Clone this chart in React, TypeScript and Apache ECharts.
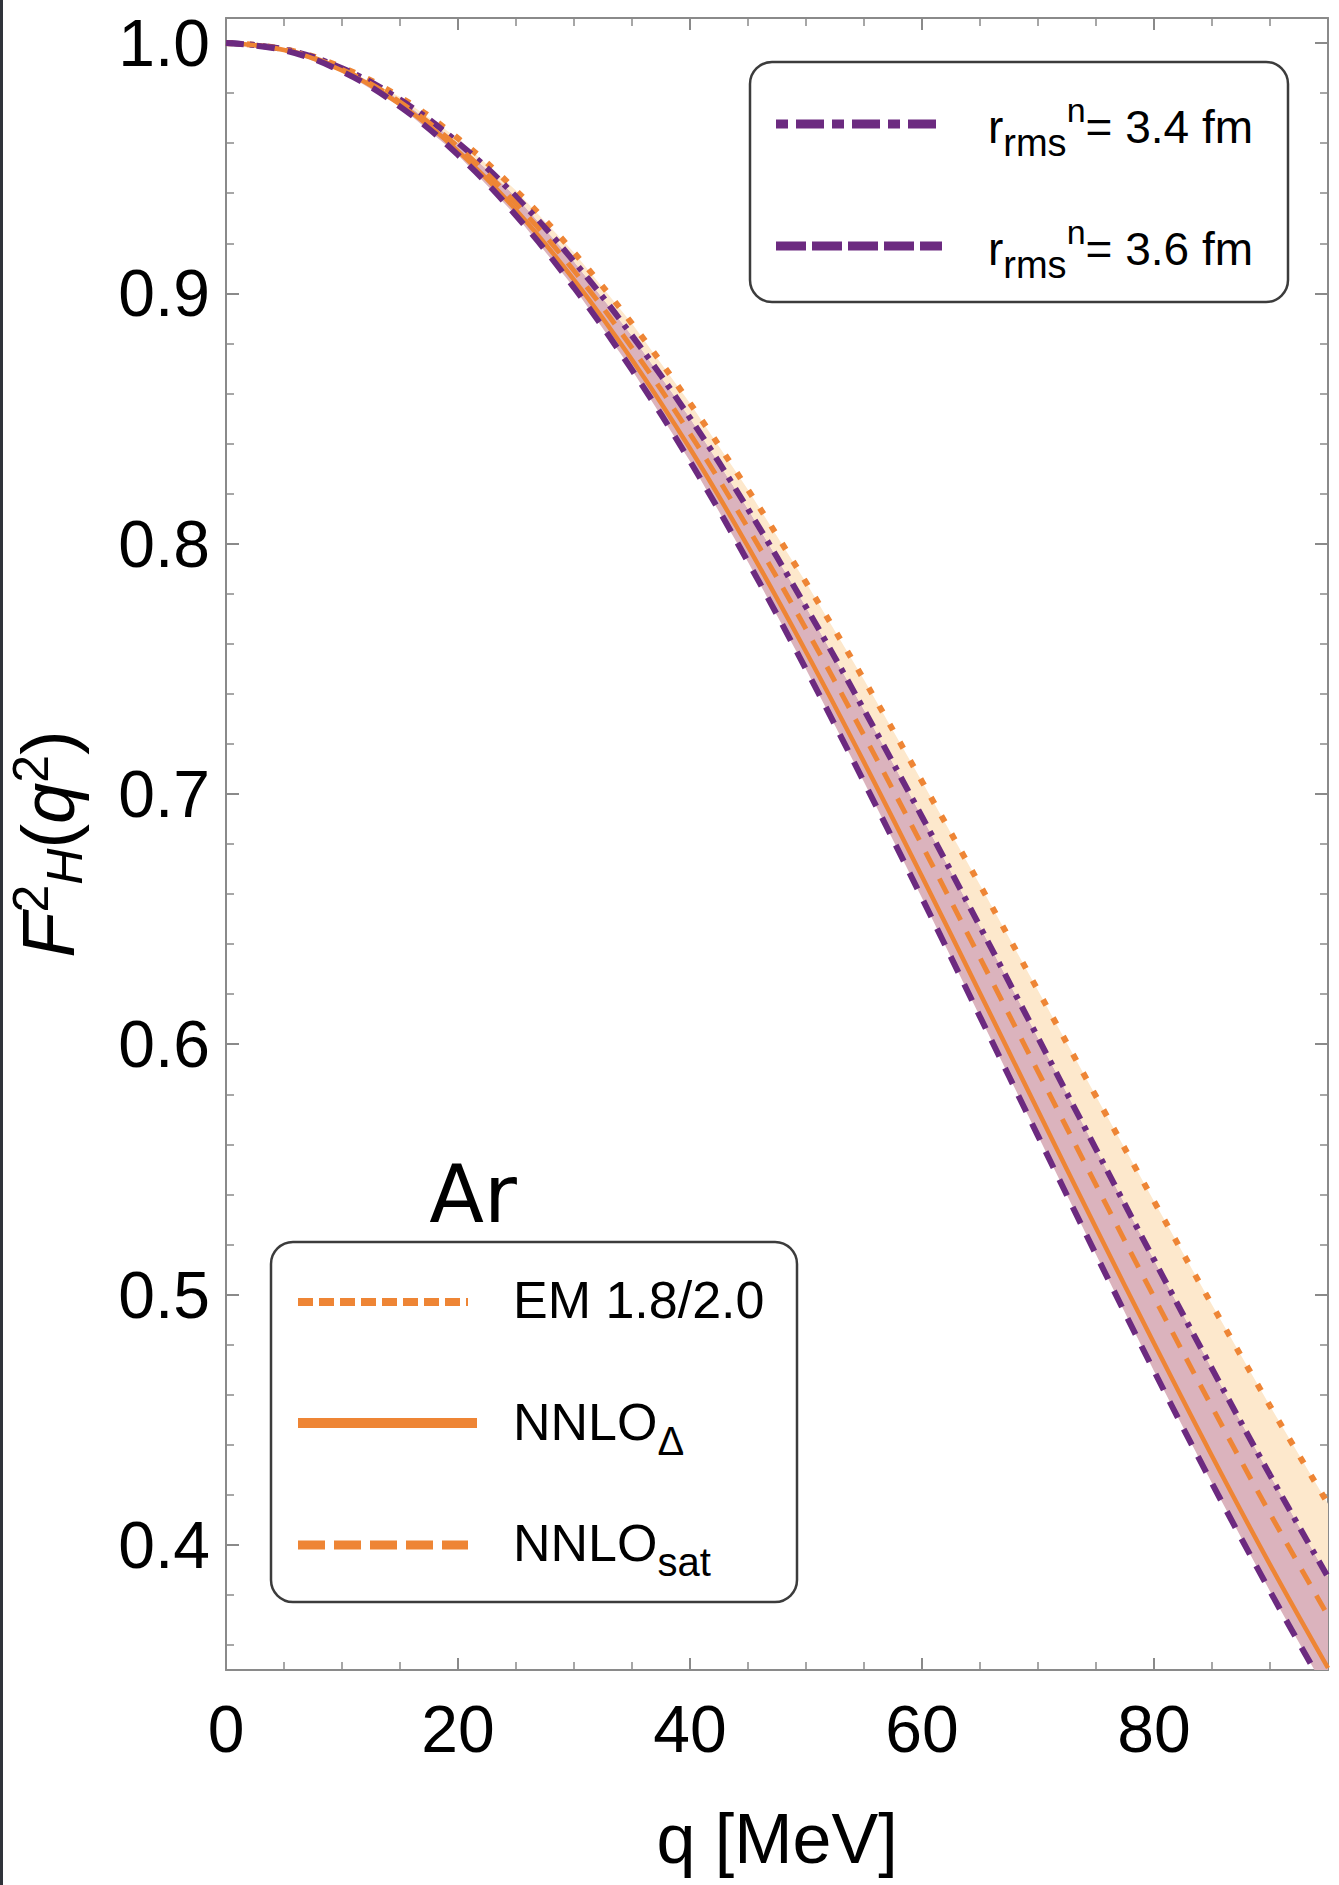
import React, { useEffect, useRef } from 'react';
import * as echarts from 'echarts';

// ---- data ----
const qValues = [0, 5, 10, 15, 20, 25, 30, 35, 40, 45, 50, 55, 60, 65, 70, 75, 80, 85, 90, 95];
const emValues = [1.0, 0.9976, 0.9903, 0.9784, 0.9619, 0.9411, 0.9163, 0.8879, 0.8561, 0.8215, 0.7845, 0.7456, 0.705, 0.6636, 0.6215, 0.5792, 0.5373, 0.4959, 0.4555, 0.4164];
const r34Values = [1.0, 0.9975, 0.9899, 0.9774, 0.9602, 0.9386, 0.9127, 0.8831, 0.8502, 0.8138, 0.7747, 0.7336, 0.6909, 0.647, 0.6026, 0.5581, 0.5139, 0.4704, 0.4279, 0.3871];
const nnloSatValues = [1.0, 0.9974, 0.9894, 0.9764, 0.9585, 0.9359, 0.909, 0.8782, 0.8439, 0.8062, 0.7659, 0.7234, 0.6795, 0.6345, 0.5891, 0.5438, 0.499, 0.4551, 0.4125, 0.3717];
const nnloDeltaValues = [1.0, 0.9972, 0.989, 0.9755, 0.9568, 0.9333, 0.9054, 0.8735, 0.838, 0.7988, 0.7568, 0.7127, 0.667, 0.6204, 0.5734, 0.5266, 0.4805, 0.4355, 0.3921, 0.3508];
const r36Values = [1.0, 0.9971, 0.9886, 0.9746, 0.9553, 0.9311, 0.9023, 0.8694, 0.8329, 0.7927, 0.7498, 0.7048, 0.6584, 0.611, 0.5634, 0.516, 0.4695, 0.4246, 0.3815, 0.3404];

const xRange = [0, 95];
const yRange = [0.35, 1.01];

const FONT = '"Liberation Sans", Arial, Helvetica, sans-serif';
const ORANGE = '#ee8535';
const PURPLE = '#6c2a80';
const AXIS = '#8a8a8a';
const PEACH = '#fde8cc';
const MAUVE = '#dbb3bd';

// bands: [upper, lower, colour]
const bands = [
  { upper: r34Values, lower: r36Values, color: MAUVE },
  { upper: emValues, lower: r34Values, color: PEACH },
];

function pairs(vals: number[]) {
  return qValues.map((q, i) => [q, vals[i]]);
}

function makeX(position: 'bottom' | 'top', labels: boolean) {
  return {
    type: 'value',
    position,
    min: xRange[0],
    max: xRange[1],
    interval: 20,
    axisLine: { show: true, onZero: false, lineStyle: { color: AXIS, width: 2 } },
    axisTick: { show: true, inside: true, length: 12, lineStyle: { color: AXIS, width: 2 } },
    minorTick: { show: true, splitNumber: 4, length: 8, lineStyle: { color: AXIS, width: 1.5 } },
    splitLine: { show: false },
    minorSplitLine: { show: false },
    axisLabel: {
      show: labels,
      margin: 26,
      fontSize: 66,
      fontFamily: FONT,
      color: '#000',
      showMaxLabel: false,
      formatter: (v: number) => String(v),
    },
    ...(labels
      ? {
          name: 'q [MeV]',
          nameLocation: 'middle',
          nameGap: 134,
          nameTextStyle: { fontSize: 70, fontFamily: FONT, color: '#000' },
        }
      : {}),
  };
}

function makeY(position: 'left' | 'right', labels: boolean) {
  return {
    type: 'value',
    position,
    min: yRange[0],
    max: yRange[1],
    splitNumber: 6,
    axisLine: { show: true, onZero: false, lineStyle: { color: AXIS, width: 2 } },
    axisTick: { show: true, inside: true, length: 13, lineStyle: { color: AXIS, width: 2 } },
    minorTick: { show: true, splitNumber: 5, length: 8, lineStyle: { color: AXIS, width: 1.5 } },
    splitLine: { show: false },
    minorSplitLine: { show: false },
    axisLabel: {
      show: labels,
      margin: 16,
      fontSize: 66,
      fontFamily: FONT,
      color: '#000',
      showMinLabel: false,
      showMaxLabel: false,
      formatter: (v: number) => v.toFixed(1),
    },
  };
}

const baseLine = {
  type: 'line',
  symbol: 'none',
  smooth: 0.4,
  silent: true,
  xAxisIndex: 0,
  yAxisIndex: 0,
  z: 3,
};

function legendText(x: number, y: number, text: string, size: number, sub: number, sup: number) {
  const lh = size * 1.5;
  return {
    type: 'text',
    x,
    y,
    z: 101,
    style: {
      text,
      align: 'left',
      verticalAlign: 'middle',
      textAlign: 'left',
      textVerticalAlign: 'middle',
      rich: {
        n: { fontSize: size, fontFamily: FONT, fill: '#000', lineHeight: lh, verticalAlign: 'middle' },
        sub: { fontSize: sub, fontFamily: FONT, fill: '#000', lineHeight: lh, verticalAlign: 'bottom' },
        sup: { fontSize: sup, fontFamily: FONT, fill: '#000', lineHeight: lh, verticalAlign: 'top' },
      },
    },
  };
}

function legendLine(x1: number, x2: number, y: number, color: string, width: number, dash: number[] | null) {
  return {
    type: 'line',
    z: 101,
    shape: { x1, y1: y, x2, y2: y },
    style: { stroke: color, lineWidth: width, lineDash: dash || undefined, lineCap: 'butt' },
  };
}

export default function App() {
  const ref = useRef<HTMLDivElement>(null);

  useEffect(() => {
    if (!ref.current) return;
    const chart = echarts.init(ref.current, undefined, { renderer: 'svg' });
    const option: any = {
      animation: false,
      backgroundColor: '#ffffff',
      grid: { left: 226, top: 18, right: 11, bottom: 215, containLabel: false, outerBoundsMode: 'none' },
      xAxis: [makeX('bottom', true), makeX('top', false)],
      yAxis: [makeY('left', true), makeY('right', false)],
      series: [
        {
          type: 'custom',
          name: 'bands',
          coordinateSystem: 'cartesian2d',
          xAxisIndex: 0,
          yAxisIndex: 0,
          clip: true,
          silent: true,
          z: 1,
          data: bands.map((_, i) => [i, 1]),
          encode: { x: 0, y: 1 },
          renderItem: (params: any, api: any) => {
            const band = bands[params.dataIndex];
            const pts: number[][] = [];
            for (let i = 0; i < qValues.length; i++) pts.push(api.coord([qValues[i], band.upper[i]]));
            for (let i = qValues.length - 1; i >= 0; i--) pts.push(api.coord([qValues[i], band.lower[i]]));
            return { type: 'polygon', shape: { points: pts }, style: { fill: band.color } };
          },
        },
        { ...baseLine, name: 'EM 1.8/2.0', data: pairs(emValues), lineStyle: { color: ORANGE, width: 6, type: [7, 14], cap: 'butt' } },
        { ...baseLine, name: 'r34', data: pairs(r34Values), lineStyle: { color: PURPLE, width: 6, type: [16, 8, 5, 8], cap: 'butt' } },
        { ...baseLine, name: 'NNLOsat', data: pairs(nnloSatValues), lineStyle: { color: ORANGE, width: 5, type: [17, 13], cap: 'butt' } },
        { ...baseLine, name: 'NNLOdelta', data: pairs(nnloDeltaValues), lineStyle: { color: ORANGE, width: 4.5, type: 'solid' } },
        { ...baseLine, name: 'r36', data: pairs(r36Values), lineStyle: { color: PURPLE, width: 6, type: [18, 13], cap: 'butt' } },
      ],
      graphic: [
        { type: 'rect', z: 100, shape: { x: 0, y: 0, width: 3, height: 1885 }, style: { fill: '#30333a' } },
        // y-axis title
        {
          type: 'text',
          x: 48,
          y: 844,
          rotation: Math.PI / 2,
          z: 101,
          style: {
            text: '{it|F}{sup|2}{sub|H}{n|(}{it|q}{sup|2}{n|)}',
            align: 'center',
            verticalAlign: 'middle',
            textAlign: 'center',
            textVerticalAlign: 'middle',
            rich: {
              it: { fontSize: 74, fontFamily: FONT, fontStyle: 'italic', fill: '#000', lineHeight: 84, verticalAlign: 'middle' },
              n: { fontSize: 74, fontFamily: FONT, fill: '#000', lineHeight: 84, verticalAlign: 'middle' },
              sup: { fontSize: 50, fontFamily: FONT, fill: '#000', lineHeight: 84, verticalAlign: 'top' },
              sub: { fontSize: 50, fontFamily: FONT, fontStyle: 'italic', fill: '#000', lineHeight: 84, verticalAlign: 'bottom' },
            },
          },
        },
        // top legend
        {
          type: 'rect',
          z: 100,
          shape: { x: 750, y: 62, width: 538, height: 240, r: 22 },
          style: { fill: '#ffffff', stroke: '#3c3c3c', lineWidth: 2.5 },
        },
        legendLine(776, 942, 124, PURPLE, 9, [12, 8, 28, 8]),
        legendLine(776, 942, 246, PURPLE, 9, [30, 6]),
        legendText(988, 127, '{n|r}{sub|rms}{sup|n}{n|= 3.4 fm}', 46, 38, 34),
        legendText(988, 249, '{n|r}{sub|rms}{sup|n}{n|= 3.6 fm}', 46, 38, 34),
        // "Ar" label
        {
          type: 'text',
          x: 473,
          y: 1194,
          z: 101,
          style: {
            text: 'Ar',
            fontSize: 80,
            fontFamily: '"Comic Sans MS", "DejaVu Sans", sans-serif',
            fill: '#000',
            align: 'center',
            verticalAlign: 'middle',
            textAlign: 'center',
            textVerticalAlign: 'middle',
          },
        },
        // bottom legend
        {
          type: 'rect',
          z: 100,
          shape: { x: 271, y: 1242, width: 526, height: 360, r: 22 },
          style: { fill: '#ffffff', stroke: '#3c3c3c', lineWidth: 2.5 },
        },
        legendLine(298, 468, 1302, ORANGE, 8, [15, 6]),
        legendLine(298, 477, 1423, ORANGE, 10, null),
        legendLine(298, 468, 1545, ORANGE, 9, [27, 9]),
        legendText(513, 1300, '{n|EM 1.8/2.0}', 52, 40, 40),
        legendText(513, 1422, '{n|NNLO}{sub|Δ}', 52, 40, 40),
        legendText(513, 1543, '{n|NNLO}{sub|sat}', 52, 40, 40),
      ],
    };
    chart.setOption(option);
    return () => {
      chart.dispose();
    };
  }, []);

  return (
    <div
      ref={ref}
      style={{ position: 'absolute', left: 0, top: 0, width: 1339, height: 1885, background: '#ffffff' }}
    />
  );
}
